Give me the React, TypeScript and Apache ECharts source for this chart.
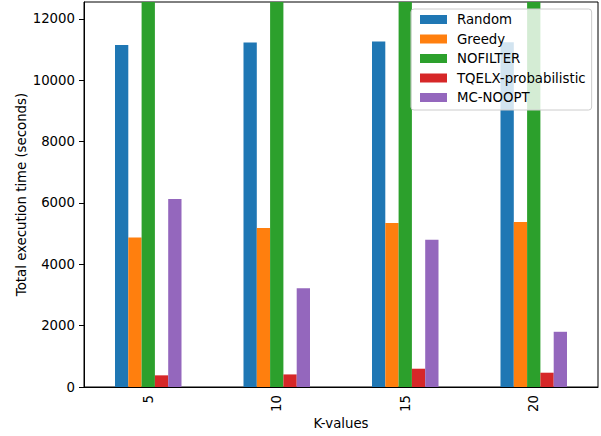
import React, { useEffect, useRef } from "react";
import * as echarts from "echarts";

const categories = ["5", "10", "15", "20"];
const seriesNames = ["Random", "Greedy", "NOFILTER", "TQELX-probabilistic", "MC-NOOPT"];
const randomVals = [11150, 11230, 11260, 11240];
const greedyVals = [4870, 5180, 5350, 5380];
const nofilterVals = [13800, 13800, 13800, 13800];
const tqelxVals = [380, 410, 596, 466];
const mcnooptVals = [6130, 3220, 4800, 1800];
const yTicks = [0, 2000, 4000, 6000, 8000, 10000, 12000];
const colors = ["#1f77b4", "#ff7f0e", "#2ca02c", "#d62728", "#9467bd"];

const FONT = "DejaVu Sans";
const FS = 13.3;

export default function App() {
  const ref = useRef<HTMLDivElement>(null);
  useEffect(() => {
    if (!ref.current) return;
    const chart = echarts.init(ref.current, undefined, { renderer: "svg" });
    const data = [randomVals, greedyVals, nofilterVals, tqelxVals, mcnooptVals];
    chart.setOption({
      animation: false,
      textStyle: { fontFamily: FONT },
      grid: {
        left: 84,
        right: 3,
        top: 2,
        bottom: 49,
        show: true,
        borderColor: "#000",
        borderWidth: 1,
        backgroundColor: "transparent",
      },
      legend: {
        orient: "vertical",
        left: 411,
        top: 9,
        data: seriesNames,
        icon: "rect",
        itemWidth: 27,
        itemHeight: 9,
        itemGap: 6.5,
        padding: [4, 6, 6, 9],
        backgroundColor: "rgba(255,255,255,0.8)",
        borderColor: "#ccc",
        borderWidth: 1,
        borderRadius: 3,
        textStyle: { fontFamily: FONT, fontSize: FS, color: "#000", lineHeight: 13, padding: [0, 0, 0, 5] },
      },
      xAxis: {
        type: "category",
        data: categories,
        name: "K-values",
        nameLocation: "middle",
        nameGap: 30,
        nameMoveOverlap: false,
        nameTextStyle: { fontFamily: FONT, fontSize: FS, color: "#000" },
        axisLine: { lineStyle: { color: "#000", width: 1 } },
        axisTick: { alignWithLabel: true, length: 5, lineStyle: { color: "#000" } },
        axisLabel: { rotate: 90, margin: 8, fontFamily: FONT, fontSize: FS, color: "#000" },
        splitLine: { show: false },
      },
      yAxis: {
        type: "value",
        min: 0,
        max: 12550,
        interval: 2000,
        name: "Total execution time (seconds)",
        nameLocation: "middle",
        nameRotate: 90,
        nameGap: 56,
        nameMoveOverlap: false,
        nameTextStyle: { fontFamily: FONT, fontSize: FS, color: "#000" },
        axisLine: { show: true, lineStyle: { color: "#000", width: 1 } },
        axisTick: { show: true, length: 5, lineStyle: { color: "#000" }, customValues: yTicks },
        axisLabel: {
          margin: 9,
          fontFamily: FONT,
          fontSize: FS,
          color: "#000",
          customValues: yTicks,
          formatter: (v: number) => String(v),
        },
        splitLine: { show: false },
      },
      series: seriesNames.map((name, i) => ({
        name,
        type: "bar",
        data: data[i],
        barWidth: 13.3,
        barGap: "0%",
        clip: true,
        itemStyle: { color: colors[i] },
      })),
    });
    return () => chart.dispose();
  }, []);
  return (
    <div
      ref={ref}
      style={{ position: "absolute", left: 0, top: 0, width: 601, height: 436, background: "#fff" }}
    />
  );
}
